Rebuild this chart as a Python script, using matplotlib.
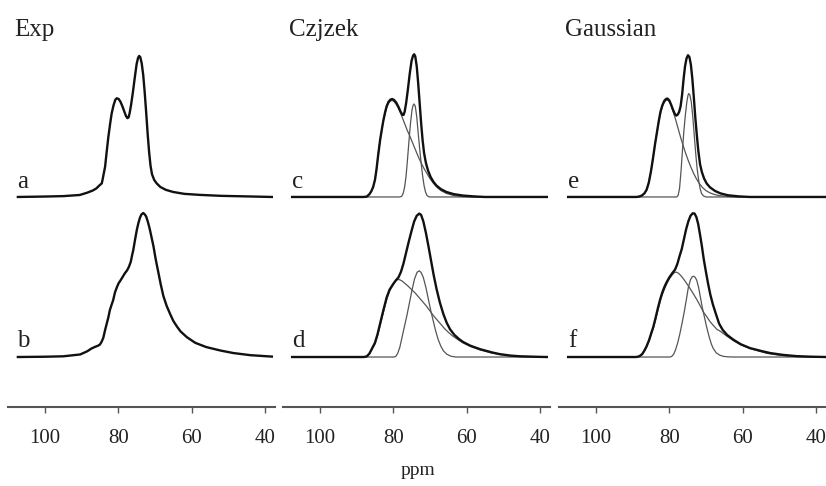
import numpy as np
import matplotlib
matplotlib.use("Agg")
import matplotlib.pyplot as plt

plt.rcParams['font.family'] = ['Liberation Serif', 'DejaVu Serif']

# --- Exp (a, b) ---
a_ppm = [107.4, 100, 95, 90.5, 88.5, 87, 86, 85.2, 84.5, 84.3, 84.0, 83.6, 83.2, 82.7,
         82.2, 81.8, 81.3, 80.8, 80.4, 79.9, 79.4, 78.9, 78.4, 77.9, 77.5, 77.2, 76.9,
         76.5, 76.0, 75.5, 75.0, 74.6, 74.3, 74.0, 73.6, 73.2, 72.8, 72.4, 72.0, 71.6,
         71.2, 70.8, 70.2, 69.5, 68.5, 67, 65, 62, 58, 52, 45, 38.1]
a_int = [0.0, 0.003, 0.006, 0.014, 0.03, 0.045, 0.06, 0.08, 0.096, 0.12, 0.16, 0.213,
         0.31, 0.425, 0.52, 0.589, 0.645, 0.685, 0.695, 0.69, 0.67, 0.64, 0.605, 0.57,
         0.555, 0.56, 0.59, 0.65, 0.74, 0.84, 0.935, 0.98, 0.993, 0.985, 0.94, 0.86,
         0.74, 0.6, 0.45, 0.32, 0.22, 0.16, 0.12, 0.095, 0.07, 0.05, 0.035, 0.022,
         0.015, 0.008, 0.004, 0.0]

b_ppm = [107.4, 100, 95, 90.4, 88.5, 87.3, 86.3, 85.5, 85.0, 84.6, 84.1, 83.6, 83.1,
         82.7, 82.3, 81.8, 81.4, 80.9, 80.4, 79.9, 79.5, 78.9, 78.2, 77.6, 77.1, 76.6,
         76.2, 75.9, 75.4, 74.9, 74.5, 74.1, 73.7, 73.2, 72.8, 72.4, 71.9, 71.4, 70.9,
         70.4, 69.8, 69.1, 68.4, 67.7, 66.8, 65.8, 65.0, 64.0, 63.0, 61.3, 59, 56, 52,
         48.6, 44, 38.1]
b_int = [0.0, 0.002, 0.005, 0.018, 0.04, 0.06, 0.072, 0.08, 0.088, 0.105, 0.134, 0.19,
         0.24, 0.28, 0.33, 0.37, 0.40, 0.455, 0.49, 0.52, 0.535, 0.56, 0.59, 0.61, 0.635,
         0.67, 0.72, 0.754, 0.83, 0.9, 0.944, 0.98, 1.003, 1.014, 1.005, 0.99, 0.95,
         0.9, 0.84, 0.78, 0.69, 0.6, 0.51, 0.43, 0.36, 0.3, 0.255, 0.215, 0.18, 0.14,
         0.1, 0.07, 0.045, 0.028, 0.013, 0.003]

# --- Czjzek fits (c, d): total, broad site, narrow site ---
c_ppm = [107.6, 88, 87.2, 86.5, 86.0, 85.5, 85.0, 84.6, 84.1, 83.6, 83.1, 82.7, 82.2,
         81.8, 81.3, 80.8, 80.3, 79.8, 79.2, 78.6, 78.0, 77.5, 77.2, 76.9, 76.5, 76.0,
         75.5, 75.0, 74.6, 74.3, 74.0, 73.6, 73.2, 72.8, 72.4, 72.0, 71.6, 71.1, 70.5,
         69.8, 69.0, 68.2, 67.0, 65.5, 63.5, 61, 58, 55, 38.1]
c_int = [0.0, 0.0, 0.003, 0.02, 0.04, 0.07, 0.12, 0.19, 0.3, 0.4, 0.48, 0.54, 0.6,
         0.64, 0.67, 0.685, 0.69, 0.683, 0.665, 0.635, 0.6, 0.578, 0.578, 0.6, 0.66,
         0.76, 0.87, 0.96, 0.995, 1.005, 0.99, 0.92, 0.8, 0.66, 0.52, 0.4, 0.31, 0.24,
         0.185, 0.14, 0.105, 0.08, 0.055, 0.035, 0.02, 0.01, 0.004, 0.0, 0.0]
c1_ppm = [107.6, 88, 87.2, 86.5, 86.0, 85.5, 85.0, 84.6, 84.1, 83.6, 83.1, 82.7, 82.2,
          81.8, 81.3, 80.8, 80.3, 79.8, 79.2, 78.6, 78.0, 77.4, 76.8, 76.2, 75.5, 74.8,
          74.0, 73.2, 72.4, 71.6, 70.8, 70.0, 69.0, 68.0, 67.0, 65.5, 63.5, 61, 59, 38.1]
c1_int = [0.0, 0.0, 0.003, 0.02, 0.04, 0.07, 0.12, 0.19, 0.3, 0.4, 0.48, 0.535, 0.59,
          0.63, 0.66, 0.675, 0.68, 0.672, 0.652, 0.625, 0.59, 0.55, 0.51, 0.47, 0.43,
          0.385, 0.335, 0.285, 0.24, 0.2, 0.165, 0.13, 0.095, 0.066, 0.045, 0.025, 0.01,
          0.002, 0.0, 0.0]
c2_ppm = [107.6, 78.2, 77.7, 77.3, 76.9, 76.5, 76.1, 75.7, 75.3, 74.9, 74.6, 74.35, 74.0,
          73.6, 73.2, 72.8, 72.4, 72.0, 71.6, 71.2, 70.8, 70.2, 38.1]
c2_int = [0.0, 0.0, 0.005, 0.025, 0.07, 0.15, 0.27, 0.4, 0.52, 0.61, 0.645, 0.655, 0.64,
          0.565, 0.45, 0.34, 0.24, 0.15, 0.08, 0.035, 0.01, 0.0, 0.0]

d_ppm = [107.6, 88, 87.2, 86.5, 85.8, 85.0, 84.3, 83.6, 82.7, 81.8, 81.0, 80.0, 79.3,
         78.6, 77.9, 77.2, 76.5, 75.8, 75.0, 74.3, 73.6, 72.9, 72.4, 71.8, 71.1, 70.4,
         69.7, 69.0, 68.2, 67.3, 66.3, 65.4, 64.5, 63.3, 62, 60.9, 59, 56.3, 53, 50.9,
         48, 45.4, 40, 38.1]
d_int = [0.0, 0.0, 0.005, 0.025, 0.06, 0.1, 0.16, 0.235, 0.33, 0.42, 0.475, 0.515, 0.54,
         0.56, 0.6, 0.66, 0.735, 0.81, 0.89, 0.955, 0.995, 1.01, 1.0, 0.955, 0.875, 0.78,
         0.68, 0.58, 0.48, 0.385, 0.3, 0.24, 0.195, 0.155, 0.125, 0.105, 0.08, 0.055,
         0.032, 0.02, 0.01, 0.005, 0.001, 0.0]
d1_ppm = [107.6, 88, 87.2, 86.5, 85.8, 85.0, 84.3, 83.6, 82.7, 81.8, 81.0, 80.0, 79.4,
          78.9, 78.3, 77.6, 76.8, 76.0, 75.0, 74.0, 73.0, 72.0, 71.0, 70.0, 69.0, 68.0,
          67.0, 66.0, 65.0, 64.0, 62.5, 61, 59, 56.3, 53, 50.9, 48, 45.4, 40, 38.1]
d1_int = [0.0, 0.0, 0.005, 0.022, 0.055, 0.092, 0.15, 0.22, 0.315, 0.405, 0.465, 0.512,
          0.535, 0.545, 0.545, 0.535, 0.518, 0.5, 0.475, 0.45, 0.42, 0.39, 0.36, 0.325,
          0.29, 0.26, 0.23, 0.2, 0.175, 0.152, 0.125, 0.1, 0.075, 0.05, 0.027, 0.018,
          0.009, 0.004, 0.001, 0.0]
d2_ppm = [107.6, 79.8, 79.3, 78.8, 78.2, 77.6, 77.0, 76.3, 75.6, 74.9, 74.2, 73.5, 72.9,
          72.4, 71.8, 71.1, 70.45, 69.8, 69.1, 68.4, 67.7, 67.0, 66.3, 65.4, 64.3, 63, 38.1]
d2_int = [0.0, 0.0, 0.005, 0.025, 0.07, 0.14, 0.21, 0.29, 0.38, 0.47, 0.55, 0.597, 0.607,
          0.595, 0.56, 0.49, 0.41, 0.33, 0.255, 0.18, 0.12, 0.075, 0.043, 0.02, 0.006, 0.0, 0.0]

# --- Gaussian fits (e, f): total, broad site, narrow site ---
e_ppm = [107.6, 89, 88.2, 87.5, 86.8, 86.2, 85.6, 85.0, 84.4, 83.9, 83.4, 82.9, 82.4,
         81.9, 81.4, 80.9, 80.5, 80.0, 79.5, 79.0, 78.5, 78.1, 77.7, 77.3, 76.9, 76.5,
         76.1, 75.7, 75.3, 74.9, 74.5, 74.1, 73.7, 73.3, 72.9, 72.5, 72.1, 71.6, 71.1,
         70.5, 69.8, 68.9, 67.5, 66, 64, 61, 58, 37.0]
e_int = [0.0, 0.0, 0.003, 0.01, 0.025, 0.05, 0.1, 0.18, 0.28, 0.37, 0.45, 0.53, 0.6,
         0.645, 0.675, 0.69, 0.693, 0.68, 0.65, 0.615, 0.585, 0.573, 0.58, 0.6, 0.64,
         0.72, 0.83, 0.92, 0.975, 0.998, 0.985, 0.93, 0.83, 0.7, 0.56, 0.44, 0.33, 0.23,
         0.175, 0.13, 0.095, 0.068, 0.042, 0.025, 0.012, 0.004, 0.0, 0.0]
e1_ppm = [107.6, 89, 88.2, 87.5, 86.8, 86.2, 85.6, 85.0, 84.4, 83.9, 83.4, 82.9, 82.4,
          81.9, 81.4, 80.9, 80.5, 80.0, 79.5, 79.0, 78.5, 78.0, 77.4, 76.8, 76.2, 75.5,
          74.8, 74.1, 73.4, 72.6, 71.8, 71.0, 70.0, 69.0, 68.0, 66.5, 64.5, 62, 37.0]
e1_int = [0.0, 0.0, 0.003, 0.01, 0.025, 0.05, 0.1, 0.18, 0.28, 0.37, 0.45, 0.525, 0.59,
          0.635, 0.665, 0.68, 0.683, 0.672, 0.645, 0.605, 0.565, 0.52, 0.465, 0.41, 0.36,
          0.305, 0.255, 0.21, 0.168, 0.128, 0.095, 0.068, 0.045, 0.03, 0.02, 0.01, 0.004,
          0.0, 0.0]
e2_ppm = [107.6, 78.0, 77.6, 77.2, 76.8, 76.4, 76.0, 75.6, 75.2, 74.9, 74.7, 74.4, 74.0,
          73.6, 73.2, 72.8, 72.4, 72.0, 71.6, 71.2, 70.7, 70.0, 37.0]
e2_int = [0.0, 0.0, 0.01, 0.06, 0.18, 0.33, 0.47, 0.58, 0.67, 0.715, 0.728, 0.72, 0.67,
          0.57, 0.44, 0.31, 0.2, 0.12, 0.06, 0.025, 0.008, 0.0, 0.0]

f_ppm = [107.6, 89, 88.2, 87.4, 86.8, 86.2, 85.5, 84.9, 84.37, 83.7, 83.1, 82.5, 81.9,
         81.3, 80.7, 80.0, 79.2, 78.44, 77.8, 77.2, 76.6, 76.0, 75.4, 74.8, 74.2, 73.6,
         73.1, 72.6, 72.1, 71.6, 71.1, 70.6, 70.0, 69.4, 68.8, 68.1, 67.3, 66.4, 65.4,
         64.2, 62.5, 60.5, 58, 55, 52.5, 49, 45.2, 41, 37.0]
f_int = [0.0, 0.0, 0.005, 0.02, 0.045, 0.075, 0.12, 0.17, 0.211, 0.28, 0.345, 0.405,
         0.455, 0.495, 0.528, 0.56, 0.59, 0.615, 0.655, 0.71, 0.76, 0.83, 0.9, 0.955,
         0.995, 1.012, 1.01, 0.985, 0.935, 0.86, 0.78, 0.69, 0.6, 0.515, 0.44, 0.37,
         0.305, 0.235, 0.19, 0.155, 0.122, 0.09, 0.063, 0.043, 0.028, 0.015, 0.006,
         0.002, 0.0]
f1_ppm = [107.6, 89, 88.2, 87.4, 86.8, 86.2, 85.5, 84.9, 84.37, 83.7, 83.1, 82.5, 81.9,
          81.3, 80.7, 80.0, 79.2, 78.6, 78.1, 77.5, 76.8, 76.18, 75.3, 74.4, 73.45, 72.5,
          71.6, 70.7, 69.8, 68.9, 68.0, 67.0, 66.0, 64.34, 62.5, 60.5, 58, 53.4, 50,
          46.2, 42, 37.0]
f1_int = [0.0, 0.0, 0.005, 0.02, 0.042, 0.07, 0.115, 0.16, 0.2, 0.265, 0.33, 0.39, 0.44,
          0.48, 0.515, 0.55, 0.578, 0.595, 0.598, 0.59, 0.572, 0.552, 0.52, 0.485, 0.446,
          0.405, 0.363, 0.317, 0.285, 0.25, 0.223, 0.195, 0.18, 0.148, 0.115, 0.086,
          0.06, 0.026, 0.013, 0.005, 0.001, 0.0]
f2_ppm = [107.6, 79.8, 79.3, 78.8, 78.3, 77.7, 77.1, 76.5, 75.9, 75.3, 74.8, 74.2, 73.7,
          73.3, 72.9, 72.5, 72.0, 71.5, 71.0, 70.4, 69.8, 69.1, 68.5, 68.0, 67.2, 66.3,
          65.3, 64, 62.5, 37.0]
f2_int = [0.0, 0.0, 0.005, 0.02, 0.05, 0.1, 0.165, 0.24, 0.32, 0.41, 0.49, 0.545, 0.567,
          0.568, 0.56, 0.54, 0.49, 0.42, 0.35, 0.28, 0.211, 0.14, 0.09, 0.06, 0.03, 0.014,
          0.005, 0.001, 0.0, 0.0]

titles = ["Exp", "Czjzek", "Gaussian"]
letters = [("a", "b"), ("c", "d"), ("e", "f")]
ticks = [100, 80, 60, 40]

top_offset = 1.127

panels = [
    {"top": (a_ppm, a_int), "bot": (b_ppm, b_int), "top_parts": [], "bot_parts": []},
    {"top": (c_ppm, c_int), "bot": (d_ppm, d_int),
     "top_parts": [(c1_ppm, c1_int), (c2_ppm, c2_int)],
     "bot_parts": [(d1_ppm, d1_int), (d2_ppm, d2_int)]},
    {"top": (e_ppm, e_int), "bot": (f_ppm, f_int),
     "top_parts": [(e1_ppm, e1_int), (e2_ppm, e2_int)],
     "bot_parts": [(f1_ppm, f1_int), (f2_ppm, f2_int)]},
]

fig = plt.figure(figsize=(8.26, 4.86), dpi=100)
lefts = [8.35, 283.35, 559.35]
W, H = 826.0, 486.0

for i, p in enumerate(panels):
    ax = fig.add_axes([lefts[i] / W, (H - 407) / H, 266.4 / W, 407 / H])
    ax.set_xlim(110, 37.3)
    ax.set_ylim(-0.352, 2.514)

    # thin lines: the two fitted sites
    for xs, ys in p["top_parts"]:
        ax.plot(xs, np.array(ys) + top_offset, color="#555555", lw=0.9)
    for xs, ys in p["bot_parts"]:
        ax.plot(xs, ys, color="#555555", lw=0.9)
    # thick lines: spectrum / sum of sites
    ax.plot(p["top"][0], np.array(p["top"][1]) + top_offset, color="#111111", lw=1.7,
            solid_joinstyle="round")
    ax.plot(p["bot"][0], p["bot"][1], color="#111111", lw=1.7, solid_joinstyle="round")

    ax.text(108.4, 2.26, titles[i], fontsize=18, ha="left", va="baseline", color="#222222")
    ax.text(107.6, top_offset + 0.063, letters[i][0], fontsize=18, ha="left", va="baseline",
            color="#222222")
    ax.text(107.6, 0.07, letters[i][1], fontsize=18, ha="left", va="baseline", color="#222222")

    for side in ["left", "right", "top"]:
        ax.spines[side].set_visible(False)
    ax.spines["bottom"].set_color("#555555")
    ax.spines["bottom"].set_linewidth(1.5)
    ax.set_yticks([])
    ax.set_xticks(ticks)
    ax.tick_params(axis="x", direction="out", length=4, width=1, color="#555555",
                   labelsize=15, pad=12, labelcolor="#222222")

fig.text(418 / W, (H - 470) / H, "ppm", ha="center", va="center", fontsize=14,
         color="#222222")

fig.savefig("out.png", dpi=100)
